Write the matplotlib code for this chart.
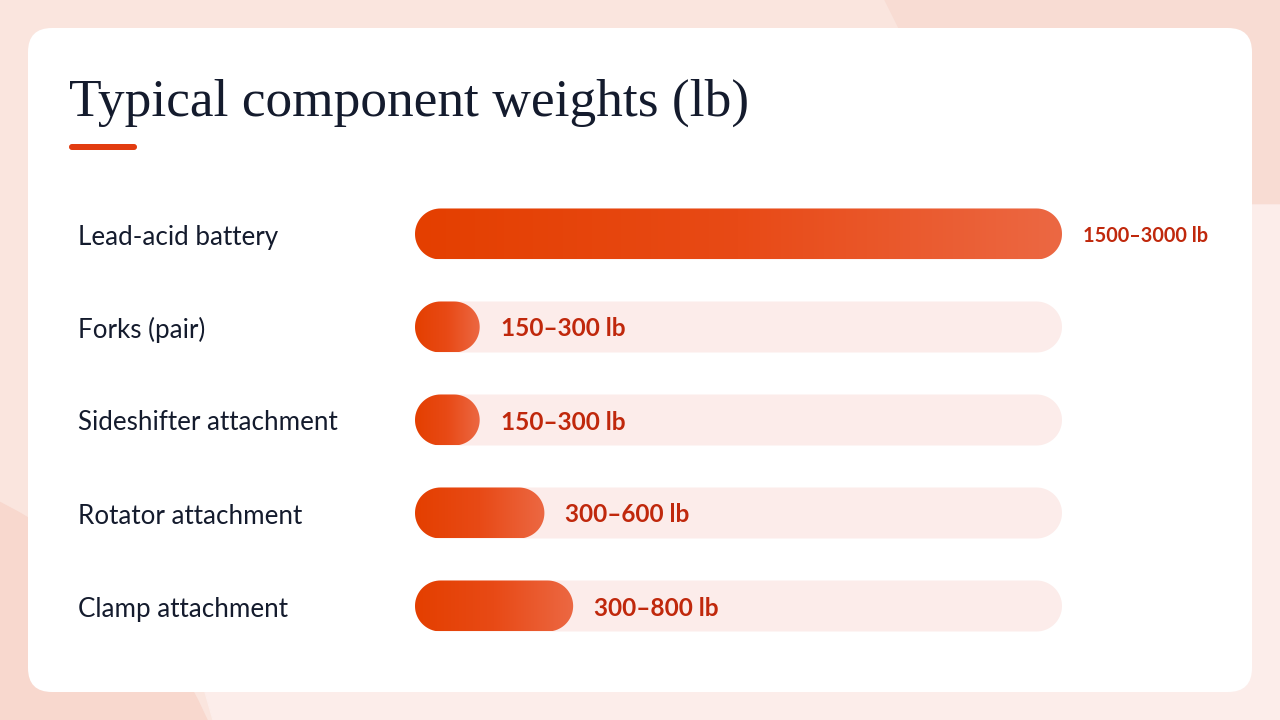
import numpy as np
import matplotlib.pyplot as plt
from matplotlib.patches import FancyBboxPatch, Polygon, Circle
from matplotlib.colors import LinearSegmentedColormap
from matplotlib.transforms import blended_transform_factory

# data
components = ['Lead-acid battery', 'Forks (pair)', 'Sideshifter attachment',
              'Rotator attachment', 'Clamp attachment']
low_lb = [1500, 150, 150, 300, 300]
high_lb = [3000, 300, 300, 600, 800]
range_labels = ['1500–3000 lb', '150–300 lb', '150–300 lb', '300–600 lb', '300–800 lb']

# bar length = middle of the range
mid_lb = [(a + b) / 2 for a, b in zip(low_lb, high_lb)]
xmax = max(mid_lb)

W, H = 1280, 720
fig = plt.figure(figsize=(12.8, 7.2), dpi=100)

# background layer in pixel coordinates
bg = fig.add_axes([0, 0, 1, 1])
bg.set_xlim(0, W)
bg.set_ylim(H, 0)
bg.axis('off')
bg.add_patch(plt.Rectangle((0, 0), W, H, color='#fae5de', zorder=0))
bg.add_patch(Polygon([(885, 0), (W, 0), (W, 205), (1000, 205), (905, 40)],
                     closed=True, color='#f8dcd3', zorder=1))
bg.add_patch(Polygon([(1000, 205), (W, 205), (W, H), (213, H), (205, 692), (1000, 692)],
                     closed=True, color='#fcedea', zorder=1))
bg.add_patch(Circle((-200, 900), 445, color='#f8d8ce', zorder=1))
bg.add_patch(FancyBboxPatch((28, 28), 1224, 664, boxstyle='round,pad=0,rounding_size=24',
                            fc='white', ec='none', zorder=2))

# title + accent
bg.text(69, 116, 'Typical component weights (lb)', fontsize=38.4,
        family='Liberation Serif', color='#141b2d', va='baseline', ha='left', zorder=3)
bg.add_patch(FancyBboxPatch((69, 144), 68, 6, boxstyle='round,pad=0,rounding_size=3',
                            fc='#e23c10', ec='none', zorder=3))

# bar axes: track runs from x=415 to x=1062 px, rows 93 px apart
x0, x1 = 415, 1062
row = 93
top = 234 - row / 2
bot = 606 + row / 2
ax = fig.add_axes([x0 / W, (H - bot) / H, (x1 - x0) / W, (bot - top) / H])
ax.set_xlim(0, xmax)
ax.set_ylim(len(components) - 0.5, -0.5)
ax.axis('off')

bar_h_px = 51
px_x = xmax / (x1 - x0)
px_y = 1 / row
ry = bar_h_px / 2 * px_y
rx = bar_h_px / 2 * px_x


def pill(length, yc):
    # stadium outline in data units
    t = np.linspace(np.pi / 2, 3 * np.pi / 2, 40)
    left_x = rx + rx * np.cos(t)
    left_y = yc - ry * np.sin(t)
    t2 = np.linspace(-np.pi / 2, np.pi / 2, 40)
    right_x = length - rx + rx * np.cos(t2)
    right_y = yc - ry * np.sin(t2)
    return np.r_[left_x, right_x], np.r_[left_y, right_y]


grad = np.linspace(0, 1, 256).reshape(1, -1)
cmap = LinearSegmentedColormap.from_list('bar', ['#e43f00', '#e84a16', '#ec6843'])

lab_tr = blended_transform_factory(fig.transFigure, ax.transData)

for i, name in enumerate(components):
    tx, ty = pill(xmax, i)
    ax.fill(tx, ty, color='#fcecea', lw=0, zorder=1)
    bx, by = pill(mid_lb[i], i)
    bar = ax.fill(bx, by, color='none', lw=0, zorder=2)[0]
    im = ax.imshow(grad, cmap=cmap, aspect='auto', interpolation='bicubic',
                   extent=(0, mid_lb[i], i + ry, i - ry), zorder=2)
    im.set_clip_path(bar)

    ax.text(78 / W, i + 3 * px_y, name, transform=lab_tr, fontsize=18.7, family='Lato',
            color='#141b2d', va='center', ha='left')

    if mid_lb[i] >= xmax:
        ax.annotate(range_labels[i], (mid_lb[i], i + 2 * px_y), xytext=(21, 0),
                    textcoords='offset pixels', fontsize=14.3, family='Lato',
                    fontweight='bold', color='#c0280c', va='center', ha='left')
    else:
        ax.annotate(range_labels[i], (mid_lb[i], i + 2 * px_y), xytext=(21, 0),
                    textcoords='offset pixels', fontsize=17.6, family='Lato',
                    fontweight='bold', color='#c0280c', va='center', ha='left')

ax.set_xlim(0, xmax)
ax.set_ylim(len(components) - 0.5, -0.5)

fig.savefig('out.png', dpi=100)
